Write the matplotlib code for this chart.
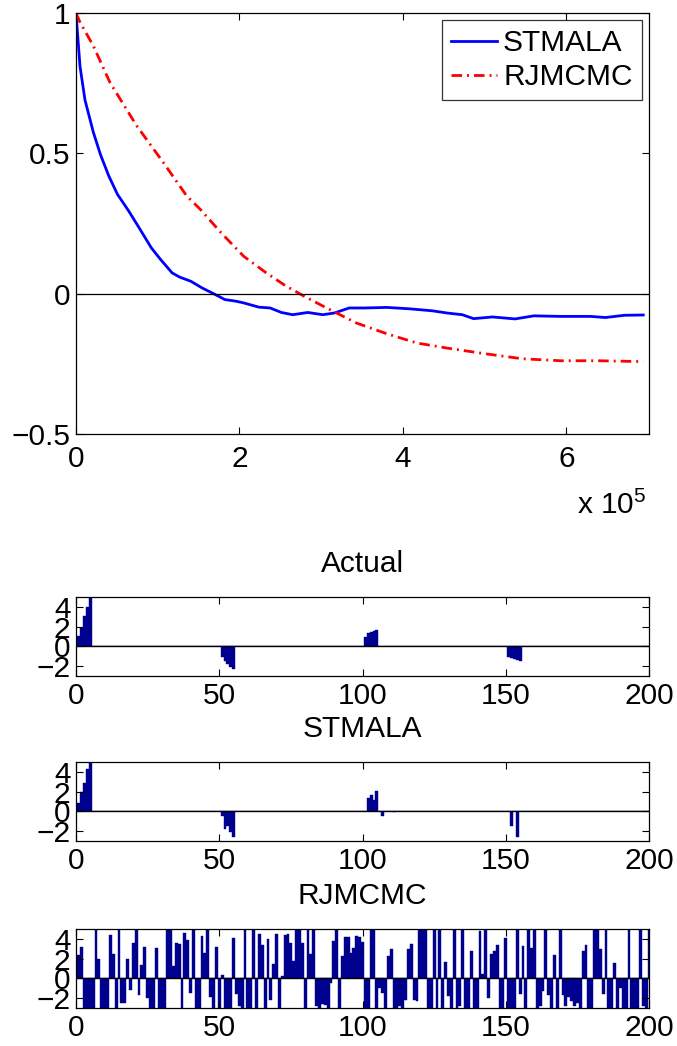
import numpy as np
import matplotlib
matplotlib.use("Agg")
import matplotlib.pyplot as plt

plt.rcParams['font.family'] = ['Liberation Sans', 'DejaVu Sans']
plt.rcParams['mathtext.default'] = 'regular'
FS = 21.5

# --- top panel: traces (x in units of 1e5 iterations) ---
stmala_x = [0, 0.049, 0.11, 0.212, 0.30, 0.40, 0.507, 0.646, 0.784, 0.922, 1.037,
            1.176, 1.268, 1.406, 1.545, 1.683, 1.821, 1.96, 2.052, 2.236, 2.375,
            2.513, 2.651, 2.836, 3.02, 3.159, 3.343, 3.527, 3.804, 4.081, 4.357,
            4.542, 4.726, 4.864, 5.095, 5.372, 5.602, 5.925, 6.294, 6.478, 6.709, 6.94]
stmala_y = [1.0, 0.81, 0.69, 0.575, 0.495, 0.42, 0.354, 0.294, 0.229, 0.163, 0.121,
            0.074, 0.059, 0.044, 0.020, 0.0, -0.021, -0.027, -0.033, -0.048, -0.051,
            -0.067, -0.075, -0.067, -0.075, -0.069, -0.051, -0.051, -0.049, -0.054, -0.061,
            -0.069, -0.075, -0.089, -0.083, -0.090, -0.079, -0.081, -0.081, -0.085, -0.077, -0.076]

rjmcmc_x = [0, 0.049, 0.212, 0.416, 0.743, 1.069, 1.355, 1.522, 1.775, 2.052, 2.328,
            2.559, 2.79, 3.066, 3.435, 3.804, 4.173, 4.542, 5.003, 5.464, 5.925, 6.386, 6.94]
rjmcmc_y = [1.0, 0.967, 0.883, 0.752, 0.598, 0.467, 0.348, 0.30, 0.217, 0.133, 0.074,
            0.029, -0.009, -0.051, -0.105, -0.143, -0.176, -0.194, -0.214, -0.232, -0.239, -0.239, -0.242]

# --- bar panels: coefficient values at indices 1..200 ---
idx = np.arange(1, 201)

actual_idx = [1, 2, 3, 4, 5, 51, 52, 53, 54, 55, 101, 102, 103, 104, 105, 151, 152, 153, 154, 155]
actual_val = [1.1, 1.9, 3.1, 4.0, 5.0, -1.05, -1.45, -1.8, -2.05, -2.3,
              1.0, 1.35, 1.5, 1.6, 1.7, -1.05, -1.2, -1.3, -1.4, -1.5]

stmala_idx = [1, 2, 3, 4, 5, 51, 52, 53, 54, 55, 102, 103, 104, 105, 107, 111, 152, 154]
stmala_val = [0.85, 1.95, 2.9, 4.3, 5.0, -0.45, -1.8, -1.5, -2.05, -2.55,
              1.4, 1.7, 1.2, 2.05, -0.45, -0.05, -1.45, -2.55]

rjmcmc_val = [
    2.4, 3.2, -3, -3, -3, -3, 4.9, 2.0, -3, -3,
    -3, 4.4, 2.5, -3, 5, -2.5, -2.5, 2.0, -1.2, 3.6,
    5, -1.7, 1.4, 3.2, -2.0, -3, -3, 3.1, -3, -3,
    -3, 5, 5, 1.3, 3.6, 3.5, -3, 4.6, 3.9, -1.5,
    5, -3, -3, 4.3, 2.6, 5, -1.9, -3, 3.2, -3,
    0.3, -3, -3, -3, 4.1, -1.6, -2.8, -3, 5, -3,
    -3, 5, -3, 4.5, 3.4, -3, 4.0, -2.2, 1.5, 4.5,
    -3, 0.2, 4.4, 4.5, 3.6, 1.8, 5, 5, 3.6, -3,
    5, 2.5, 5, -2.8, -3, -2.6, -2.7, -3, -0.5, 3.8,
    5, -3, 2.3, 4.2, 4.2, 2.6, 3.1, 4.3, 4.2, 3.7,
    -3, -3, 5, 5, -3, -1.0, -1.5, -3, 2.3, 3.0,
    -3, -3, -2.8, -3, -2.2, 3.0, 3.5, -2.2, -2.3, 5,
    5, 5, -3, -3, 5, -3, 5, -3, 1.7, -1.8,
    -3, 5, -3, -2.8, 5, -3, -3, 2.8, -3, -3,
    4.8, 0.4, 5, -2.0, 2.5, 2.8, 3.4, -3, -3, 4.1,
    -3, -3, -3, 5, -1.6, 3.3, -3, 5, 3.1, 5,
    -3, -2.8, -1.3, 5, -1.7, -3, 2.4, -3, 5, -1.7,
    -2.8, -1.9, -2.3, -2.8, -2.5, -3, 2.8, 3.4, -3, -3,
    5, 5, 3.0, -1.6, 5, -3, -3, 1.6, -3, -1.0,
    -3, -3, 5, -3, -3, -3, 5, -2.8, -3, 5,
]

actual = np.zeros(200)
actual[np.array(actual_idx) - 1] = actual_val
stmala = np.zeros(200)
stmala[np.array(stmala_idx) - 1] = stmala_val

bar_titles = ["Actual", "STMALA", "RJMCMC"]
bar_series = [actual, stmala, np.array(rjmcmc_val)]

W, H = 677, 1046
fig = plt.figure(figsize=(W / 100, H / 100), dpi=100)

left = 76 / W
width = (649 - 76) / W


def style(ax, xpad=4):
    ax.tick_params(direction='in', top=True, right=True, length=5, width=0.8,
                   labelsize=FS, pad=4)
    ax.tick_params(axis='x', pad=xpad)
    for s in ax.spines.values():
        s.set_linewidth(0.9)
        s.set_color('black')


# top traces
ax = fig.add_axes([left, 1 - 434 / H, width, (434 - 13) / H])
ax.plot(stmala_x, stmala_y, color='#0000FF', lw=2.0, label='STMALA')
ax.plot(rjmcmc_x, rjmcmc_y, color='#FF0000', lw=2.0,
        linestyle=(0, (3.8, 1.8, 0.7, 1.8)), label='RJMCMC')
ax.axhline(0, color='black', lw=0.9)
ax.set_xlim(0, 7.01)
ax.set_ylim(-0.5, 1)
ax.set_xticks([0, 2, 4, 6])
ax.set_xticklabels(['0', '2', '4', '6'])
ax.set_yticks([-0.5, 0, 0.5, 1])
ax.set_yticklabels(['\u22120.5', '0', '0.5', '1'])
style(ax, xpad=8)
leg = ax.legend(loc='upper right', fontsize=FS, frameon=True, fancybox=False,
                edgecolor='black', handlelength=1.55, handletextpad=0.2,
                borderpad=0.3, labelspacing=0.2, borderaxespad=0.25)
leg.get_frame().set_linewidth(0.9)
fig.text(646 / W, 1 - 514 / H, 'x 10$^{5}$', fontsize=FS, ha='right', va='baseline')

# coefficient bar panels
tops = [597, 762, 929]
for top, title, vals in zip(tops, bar_titles, bar_series):
    bx = fig.add_axes([left, 1 - (top + 79) / H, width, 79 / H])
    bx.bar(idx, vals, width=1.0, color='#00008F', edgecolor='#00008F', linewidth=0.3)
    bx.axhline(0, color='black', lw=1.0)
    bx.set_xlim(0, 200)
    bx.set_ylim(-3, 5)
    bx.set_xticks([0, 50, 100, 150, 200])
    bx.set_yticks([-2, 0, 2, 4])
    bx.set_yticklabels(['\u22122', '0', '2', '4'])
    style(bx)
    bx.set_title(title, fontsize=FS, pad=18)

fig.savefig('out.png', dpi=100)
